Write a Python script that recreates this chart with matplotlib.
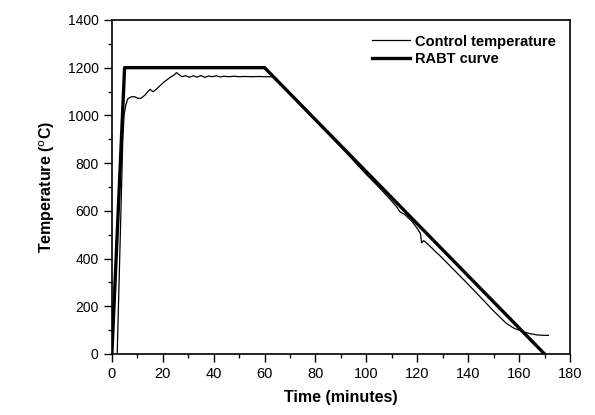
import matplotlib
matplotlib.use("Agg")
import matplotlib.pyplot as plt
from matplotlib.ticker import MultipleLocator

plt.rcParams['font.family'] = ['Liberation Sans', 'DejaVu Sans']

# RABT curve
rabt_time = [0, 5, 60, 170]
rabt_temp = [0, 1200, 1200, 0]

# Control temperature
ctrl_time = [2.1, 4.3, 4.8, 5.5, 6.3, 7.7, 9.0, 10.3, 11.5, 13.0, 14.2, 15.0, 16.2, 17.5,
             19.0, 20.5, 21.5, 23.0, 24.5, 25.4, 26.5, 27.5, 29.0, 30.5, 32.0, 33.5, 35.0,
             36.5, 38.0, 39.5, 41.0, 42.5, 44.0, 46.0, 48.0, 50.0, 52.0, 55.0, 58.0, 60.0,
             62.0, 64.0, 70.0, 80.0, 90.0, 100.0, 105.0, 110.0, 112.0, 113.2, 115.0, 118.0,
             120.4, 121.2, 121.7, 122.5, 124.0, 130.0, 140.0, 150.0, 155.0, 158.0, 161.7,
             164.0, 167.0, 170.0, 171.5]
ctrl_temp = [0, 900, 1000, 1045, 1070, 1078, 1078, 1071, 1072, 1085, 1100, 1109, 1099, 1110,
             1125, 1140, 1148, 1160, 1170, 1179, 1170, 1162, 1166, 1160, 1166, 1160, 1167,
             1159, 1165, 1162, 1166, 1161, 1164, 1162, 1164, 1162, 1163, 1162, 1163, 1162,
             1162, 1160, 1090, 978, 868, 752, 698, 640, 615, 596, 585, 555,
             520, 505, 466, 475, 462, 400, 292, 180, 128, 108, 93,
             86, 80, 78, 78]

fig = plt.figure(figsize=(5.95, 4.15), dpi=100)
ax = fig.add_axes([0.188, 0.147, 0.770, 0.805])

ax.plot(ctrl_time, ctrl_temp, color='black', lw=0.9, label='Control temperature')
ax.plot(rabt_time, rabt_temp, color='black', lw=2.4, label='RABT curve')

ax.set_xlim(0, 180)
ax.set_ylim(0, 1400)
ax.xaxis.set_major_locator(MultipleLocator(20))
ax.xaxis.set_minor_locator(MultipleLocator(10))
ax.yaxis.set_major_locator(MultipleLocator(200))
ax.yaxis.set_minor_locator(MultipleLocator(100))
ax.tick_params(which='major', direction='out', length=6, width=1, labelsize=10)
ax.tick_params(axis='x', which='major', labelsize=10.5)
ax.tick_params(which='minor', direction='out', length=3, width=1)
for s in ax.spines.values():
    s.set_linewidth(1.2)

ax.set_xlabel('Time (minutes)', fontsize=11.5, fontweight='bold', labelpad=6)
ax.set_ylabel('Temperature ($^{\\rm o}$C)', fontsize=11.5, fontweight='bold', labelpad=8)

leg = ax.legend(loc='upper right', frameon=False, fontsize=10.5, handlelength=2.6,
                handletextpad=0.3, borderaxespad=0.6, labelspacing=0.25)
for t in leg.get_texts():
    t.set_fontweight('bold')

fig.savefig('out.png', dpi=100)
